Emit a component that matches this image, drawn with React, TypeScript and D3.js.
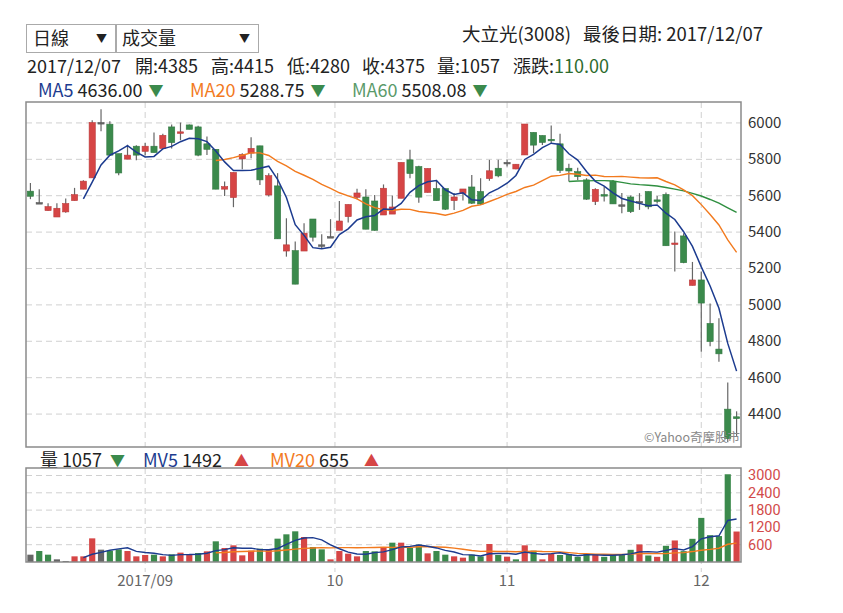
import React from "react";
import * as d3 from "d3";

const dates = [
  "2017/08/15","2017/08/16","2017/08/17","2017/08/18","2017/08/21","2017/08/22","2017/08/23","2017/08/24","2017/08/25","2017/08/28","2017/08/29","2017/08/30","2017/08/31",
  "2017/09/01","2017/09/04","2017/09/05","2017/09/06","2017/09/07","2017/09/08","2017/09/11","2017/09/12","2017/09/13","2017/09/14","2017/09/15","2017/09/18","2017/09/19","2017/09/20","2017/09/21","2017/09/22","2017/09/25","2017/09/26","2017/09/27","2017/09/28","2017/09/29","2017/09/30",
  "2017/10/02","2017/10/03","2017/10/05","2017/10/06","2017/10/11","2017/10/12","2017/10/13","2017/10/16","2017/10/17","2017/10/18","2017/10/19","2017/10/20","2017/10/23","2017/10/24","2017/10/25","2017/10/26","2017/10/27","2017/10/30","2017/10/31",
  "2017/11/01","2017/11/02","2017/11/03","2017/11/06","2017/11/07","2017/11/08","2017/11/09","2017/11/10","2017/11/13","2017/11/14","2017/11/15","2017/11/16","2017/11/17","2017/11/20","2017/11/21","2017/11/22","2017/11/23","2017/11/24","2017/11/27","2017/11/28","2017/11/29","2017/11/30",
  "2017/12/01","2017/12/04","2017/12/05","2017/12/06","2017/12/07",
];

const openP = [
  5625,5562,5518,5483,5511,5573,5636,5698,6002,5993,5831,5801,5872,5844,5872,5859,5978,5945,5989,5978,
  5885,5855,5636,5590,5802,5834,5874,5604,5654,5296,5298,5296,5472,5330,5375,5410,5485,5591,5593,5571,
  5494,5499,5586,5797,5760,5618,5639,5639,5573,5612,5648,5623,5694,5751,5783,5747,5824,5948,5931,5910,
  5885,5751,5732,5687,5568,5606,5678,5550,5593,5568,5623,5577,5607,5334,5379,5107,5137,4898,4757,4427,
  4385,
];
const highP = [
  5670,5636,5559,5559,5584,5643,5685,6015,6075,6009,5831,5880,5877,5890,5947,5941,5991,6002,5991,5984,
  5925,5855,5678,5728,5834,5921,5874,5724,5724,5476,5348,5449,5472,5388,5471,5571,5552,5638,5636,5604,
  5662,5601,5783,5852,5765,5750,5687,5639,5615,5637,5714,5696,5797,5797,5797,5773,5994,5948,5931,5986,
  5941,5775,5753,5696,5641,5650,5687,5615,5601,5614,5623,5599,5617,5403,5394,5236,5183,5007,4927,4573,
  4415,
];
const lowP = [
  5581,5557,5518,5483,5507,5573,5636,5698,5954,5823,5713,5801,5795,5823,5837,5859,5859,5905,5965,5817,
  5824,5636,5599,5537,5746,5806,5659,5595,5363,5265,5114,5296,5348,5311,5372,5410,5453,5580,5416,5408,
  5494,5499,5586,5696,5562,5618,5573,5522,5522,5573,5555,5549,5682,5702,5760,5745,5824,5834,5879,5888,
  5725,5678,5687,5577,5549,5568,5555,5504,5505,5522,5526,5557,5325,5183,5229,5107,4743,4773,4687,4245,
  4280,
];
const closeP = [
  5597,5562,5540,5531,5557,5606,5680,6002,6002,5823,5725,5823,5823,5872,5837,5932,5892,5951,5965,5823,
  5855,5636,5650,5728,5827,5860,5687,5710,5363,5330,5114,5394,5372,5330,5375,5461,5552,5615,5416,5410,
  5641,5538,5783,5722,5592,5750,5573,5526,5593,5637,5559,5554,5737,5709,5783,5773,5994,5878,5893,5906,
  5739,5736,5705,5581,5635,5604,5555,5550,5513,5568,5539,5575,5325,5340,5232,5137,5010,4799,4731,4265,
  4375,
];
const volume = [
  254,381,254,92,35,196,196,820,428,393,439,381,196,243,254,196,266,324,254,312,
  370,717,486,578,231,393,462,451,809,960,1064,867,520,439,92,381,289,196,381,370,
  520,670,670,486,601,300,381,254,196,150,254,196,624,243,185,92,578,393,92,289,
  243,273,180,273,261,180,273,273,423,608,226,180,562,747,377,804,1530,930,900,3043,
  1057,
];
// u = up vs previous close, d = down, n = flat
const volDir = [
  "n","d","d","n","n","u","u","u","n","d","d","u","u","u","d","u","d","u","u","d",
  "u","d","u","u","u","u","d","u","d","d","d","u","d","d","u","u","u","u","d","d",
  "u","d","u","d","d","u","d","d","u","u","d","d","u","d","u","d","u","d","u","u",
  "d","d","d","d","u","d","d","d","d","u","d","u","d","u","d","d","d","d","d","d",
  "u",
];

const priceTicks = [4400, 4600, 4800, 5000, 5200, 5400, 5600, 5800, 6000];
const volTicks = [600, 1200, 1800, 2400, 3000];
const monthLabels = ["2017/09", "10", "11", "12"];
const monthAt = [13, 34.5, 54, 76];

const FONT = "'Microsoft JhengHei','Noto Sans CJK TC','Noto Sans',sans-serif";
const NUMFONT = "Roboto,'Noto Sans',sans-serif";
const RED = "#d64545";
const GREEN = "#3b8a4c";
const GRAY = "#666";
const C_MA5 = "#1c3b8f";
const C_MA20 = "#f27a1e";
const C_MA60 = "#2f8f40";

function movingAvg(arr: number[], n: number): [number, number][] {
  const out: [number, number][] = [];
  for (let i = n + 1; i < arr.length; i++) {
    out.push([i, d3.mean(arr.slice(i - n + 1, i + 1)) as number]);
  }
  return out;
}

export default function App() {
  const W = 843, H = 613;
  const left = 26, right = 741;
  const pTop = 102, pBot = 447, vTop = 468, vBot = 562;
  const n = dates.length;
  const idx = d3.range(n);

  const x = d3.scaleBand<number>().domain(idx).range([left, right]).paddingInner(0.3).paddingOuter(0.15);
  const step = x.step();
  const bw = x.bandwidth();
  const cx = (i: number) => (x(i) as number) + bw / 2;
  const fx = (at: number) => left + step * (at + 0.5);

  const y = d3.scaleLinear().domain([4219, 6115]).range([pBot, pTop]);
  const yv = d3.scaleLinear().domain([0, 3260]).range([vBot, vTop]);

  const ma5 = movingAvg(closeP, 5);
  const ma20 = movingAvg(closeP, 20);
  const ma60 = movingAvg(closeP, 60);
  const mv5 = movingAvg(volume, 5);
  const mv20 = movingAvg(volume, 20);

  const pLine = d3.line<[number, number]>().x((d) => cx(d[0])).y((d) => y(d[1]));
  const vLine = d3.line<[number, number]>().x((d) => cx(d[0])).y((d) => yv(d[1]));

  const last = n - 1;
  const txt = { fontFamily: FONT, fill: "#222" } as const;

  return (
    <svg width={W} height={H} style={{ position: "absolute", left: 0, top: 0, background: "#fff" }}>
      <defs>
        <clipPath id="pclip"><rect x={left} y={pTop} width={right - left} height={pBot - pTop} /></clipPath>
        <clipPath id="vclip"><rect x={left} y={vTop} width={right - left} height={vBot - vTop} /></clipPath>
      </defs>
      <rect x={0} y={0} width={W} height={H} fill="#fff" />

      {/* select boxes */}
      <rect x={26.5} y={24.5} width={89} height={28} fill="#fff" stroke="#aaa" />
      <text x={33} y={45} fontSize={18} {...txt}>日線</text>
      <text x={96} y={43} fontSize={11} {...txt}>▼</text>
      <rect x={116.5} y={24.5} width={142} height={28} fill="#fff" stroke="#aaa" />
      <text x={122} y={45} fontSize={18} {...txt}>成交量</text>
      <text x={239} y={43} fontSize={11} {...txt}>▼</text>

      <text x={462} y={41} fontSize={18.5} {...txt}>大立光(3008)</text>
      <text x={583} y={41} fontSize={18.5} {...txt}>最後日期: {dates[last]}</text>

      {/* info line */}
      <g fontSize={18} fontFamily={FONT} fill="#222">
        <text x={27} y={73}>{dates[last]}</text>
        <text x={135} y={73}>開:{openP[last]}</text>
        <text x={211} y={73}>高:{highP[last]}</text>
        <text x={287} y={73}>低:{lowP[last]}</text>
        <text x={362} y={73}>收:{closeP[last]}</text>
        <text x={437} y={73}>量:{volume[last]}</text>
        <text x={513} y={73}>漲跌:<tspan fill="#2e6b2e">{(closeP[last] - closeP[last - 1]).toFixed(2)}</tspan></text>
      </g>

      {/* MA legend */}
      <g fontSize={18} fontFamily={FONT}>
        <text x={38} y={97}><tspan fill={C_MA5}>MA5</tspan><tspan fill="#222"> {ma5[ma5.length - 1][1].toFixed(2)}</tspan><tspan dx={6} dy={-1} fontSize={15} fill={GREEN}>▼</tspan></text>
        <text x={190} y={97}><tspan fill={C_MA20}>MA20</tspan><tspan fill="#222"> {ma20[ma20.length - 1][1].toFixed(2)}</tspan><tspan dx={6} dy={-1} fontSize={15} fill={GREEN}>▼</tspan></text>
        <text x={352} y={97}><tspan fill="#5a9a6a">MA60</tspan><tspan fill="#222"> {ma60[ma60.length - 1][1].toFixed(2)}</tspan><tspan dx={6} dy={-1} fontSize={15} fill={GREEN}>▼</tspan></text>
      </g>

      {/* price panel */}
      <g>
        {priceTicks.map((t) => (
          <line key={"pg" + t} x1={left} x2={right} y1={y(t)} y2={y(t)} stroke="#d0d0d0" strokeDasharray="6,4" />
        ))}
        {monthAt.map((a, k) => (
          <line key={"pm" + k} x1={fx(a)} x2={fx(a)} y1={pTop} y2={pBot} stroke="#d0d0d0" strokeDasharray="6,4" />
        ))}
        {priceTicks.map((t) => (
          <text key={"pt" + t} x={748} y={y(t) + 5} fontSize={15} fontFamily={FONT} fill="#333">{t}</text>
        ))}
        <g clipPath="url(#pclip)">
          {idx.map((i) => {
            const o = openP[i], c = closeP[i];
            const col = c > o ? RED : c < o ? GREEN : GRAY;
            const top = y(Math.max(o, c));
            const h = Math.max(1.5, y(Math.min(o, c)) - top);
            return (
              <g key={"c" + i}>
                <line x1={cx(i)} x2={cx(i)} y1={y(highP[i])} y2={y(lowP[i])} stroke={GRAY} strokeWidth={1.2} />
                <rect x={x(i)} y={top} width={bw} height={h} fill={col} stroke={d3.color(col)!.darker(0.4).toString()} strokeWidth={0.6} />
              </g>
            );
          })}
          <path d={pLine(ma60) || ""} fill="none" stroke={C_MA60} strokeWidth={1.4} />
          <path d={pLine(ma20) || ""} fill="none" stroke={C_MA20} strokeWidth={1.4} />
          <path d={pLine(ma5) || ""} fill="none" stroke={C_MA5} strokeWidth={1.5} />
        </g>
        <text x={740} y={442} fontSize={12.5} fontFamily={FONT} fill="#888" textAnchor="end">©Yahoo奇摩股市</text>
        <rect x={left} y={pTop} width={right - left} height={pBot - pTop} fill="none" stroke="#8a8a8a" strokeWidth={1.5} />
      </g>

      {/* volume legend */}
      <g fontSize={18} fontFamily={FONT}>
        <text x={40} y={467} fill="#222">量 {volume[last]}</text>
        <text x={110} y={466} fontSize={15} fill={GREEN}>▼</text>
        <text x={143} y={467}><tspan fill={C_MA5}>MV5</tspan><tspan fill="#222"> {Math.round(mv5[mv5.length - 1][1])}</tspan></text>
        <text x={234} y={466} fontSize={15} fill={RED}>▲</text>
        <text x={270} y={467}><tspan fill={C_MA20}>MV20</tspan><tspan fill="#222"> {Math.round(mv20[mv20.length - 1][1])}</tspan></text>
        <text x={364} y={466} fontSize={15} fill={RED}>▲</text>
      </g>

      {/* volume panel */}
      <g>
        {volTicks.map((t) => (
          <line key={"vg" + t} x1={left} x2={right} y1={yv(t)} y2={yv(t)} stroke="#d0d0d0" strokeDasharray="6,4" />
        ))}
        {monthAt.map((a, k) => (
          <line key={"vm" + k} x1={fx(a)} x2={fx(a)} y1={vTop} y2={vBot + 10} stroke="#d0d0d0" strokeDasharray="6,4" />
        ))}
        {volTicks.map((t) => (
          <text key={"vt" + t} x={748} y={yv(t) + 5} fontSize={14.5} fontFamily={NUMFONT} fill="#d24a4a">{t}</text>
        ))}
        <g clipPath="url(#vclip)">
          {idx.map((i) => (
            <rect key={"v" + i} x={x(i)} y={yv(volume[i])} width={bw} height={vBot - yv(volume[i])}
              fill={volDir[i] === "u" ? RED : volDir[i] === "d" ? GREEN : "#666"} />
          ))}
          <path d={vLine(mv20) || ""} fill="none" stroke={C_MA20} strokeWidth={1.4} />
          <path d={vLine(mv5) || ""} fill="none" stroke={C_MA5} strokeWidth={1.4} />
        </g>
        <rect x={left} y={vTop} width={right - left} height={vBot - vTop} fill="none" stroke="#8a8a8a" strokeWidth={1.5} />
        {monthLabels.map((l, k) => (
          <text key={"ml" + k} x={fx(monthAt[k])} y={586} fontSize={15} fontFamily={FONT} fill="#666" textAnchor="middle">{l}</text>
        ))}
      </g>
    </svg>
  );
}
